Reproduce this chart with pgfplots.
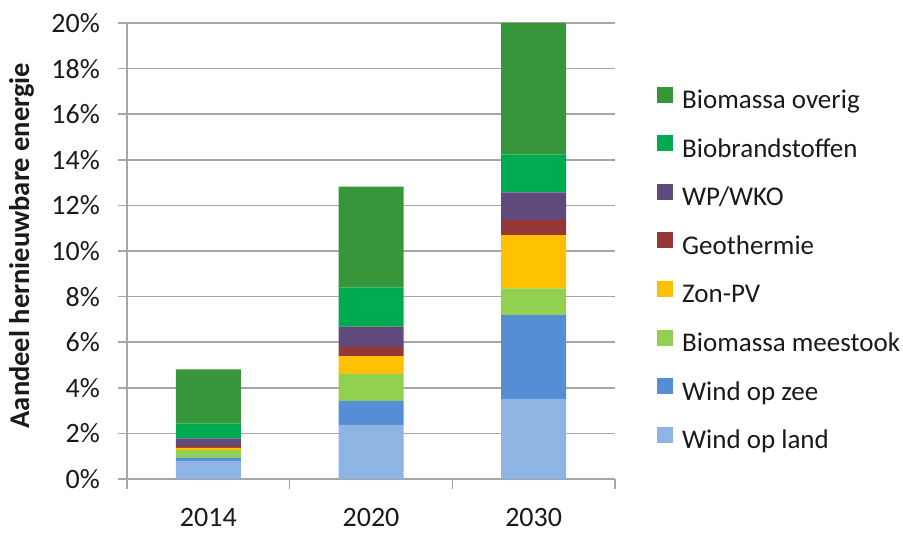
\documentclass[border=0pt]{standalone}
\usepackage{pgfplots}
\pgfplotsset{compat=1.18}
\usepackage{pgfplotstable}
\usepackage{fontspec}
\setmainfont{Carlito}
\definecolor{cOverig}{HTML}{37963A}
\definecolor{cBiobr}{HTML}{00AA50}
\definecolor{cWP}{HTML}{604A7B}
\definecolor{cGeo}{HTML}{953735}
\definecolor{cZon}{HTML}{FFC000}
\definecolor{cMee}{HTML}{92D050}
\definecolor{cZee}{HTML}{558ED5}
\definecolor{cLand}{HTML}{8EB4E3}
\definecolor{gridc}{HTML}{A6A6A6}
\definecolor{txt}{HTML}{1A1A1A}
\pgfplotstableread{
x land zee meestook zon geo wp biobr overig
0 0.80 0.14 0.33 0.10 0.08 0.33 0.66 2.37
1 2.37 1.06 1.18 0.78 0.41 0.88 1.73 4.41
2 3.50 3.69 1.17 2.34 0.66 1.21 1.67 5.76
}\data
\begin{document}
\begin{tikzpicture}
\begin{axis}[
  scale only axis, width=488bp, height=456bp,
  ybar stacked, bar width=65bp,
  xmin=-0.5, xmax=2.5, ymin=0, ymax=20,
  xtick={0,1,2}, xticklabels={2014,2020,2030},
  minor xtick={-0.5,0.5,1.5,2.5},
  major x tick style={draw=none},
  minor x tick style={gridc, line width=1.5bp},
  minor tick length=10bp,
  ytick={0,2,...,20},
  yticklabel={\pgfmathprintnumber{\tick}\%},
  /pgf/number format/assume math mode=true,
  y tick style={gridc, line width=1.5bp},
  major tick length=9bp,
  tick align=outside,
  ymajorgrids, grid style={gridc, line width=1.5bp},
  axis x line*=bottom, axis y line*=left,
  axis line style={gridc, line width=1.5bp, -},
  ticklabel style={font=\fontsize{28bp}{33bp}\selectfont, text=txt, inner sep=0pt},
  xticklabel style={yshift=-20bp},
  yticklabel style={xshift=-18bp},
  ylabel={Aandeel hernieuwbare energie},
  ylabel style={font=\fontsize{28.5bp}{32bp}\selectfont\bfseries, text=txt,
    at={(rel axis cs:-0.2162,0.512)}, anchor=center},
  reverse legend,
  legend cell align=left,
  legend style={draw=none, fill=none, at={(rel axis cs:1.086,0.457)}, anchor=west,
    font=\fontsize{27bp}{32bp}\selectfont, text=txt, row sep=20.6bp, inner sep=0pt,
    nodes={text height=20bp, text depth=6bp, inner sep=0pt},
    /tikz/every even column/.append style={column sep=0bp},
    /tikz/every odd column/.append style={column sep=9bp}},
  legend image code/.code={\fill[#1] (0bp,-1bp) rectangle (16bp,15bp);},
]
\addplot[fill=cLand, draw=none] table[x=x, y=land] {\data};
\addplot[fill=cZee, draw=none] table[x=x, y=zee] {\data};
\addplot[fill=cMee, draw=none] table[x=x, y=meestook] {\data};
\addplot[fill=cZon, draw=none] table[x=x, y=zon] {\data};
\addplot[fill=cGeo, draw=none] table[x=x, y=geo] {\data};
\addplot[fill=cWP, draw=none] table[x=x, y=wp] {\data};
\addplot[fill=cBiobr, draw=none] table[x=x, y=biobr] {\data};
\addplot[fill=cOverig, draw=none] table[x=x, y=overig] {\data};
\legend{Wind op land, Wind op zee, Biomassa meestook, Zon-PV, Geothermie, WP/WKO, Biobrandstoffen, Biomassa overig}
\path (rel axis cs:0,0) coordinate (bl);
\end{axis}
\pgfresetboundingbox
\useasboundingbox ([shift={(-127bp,-56bp)}]bl) rectangle ([shift={(776bp,479bp)}]bl);
\end{tikzpicture}
\end{document}
